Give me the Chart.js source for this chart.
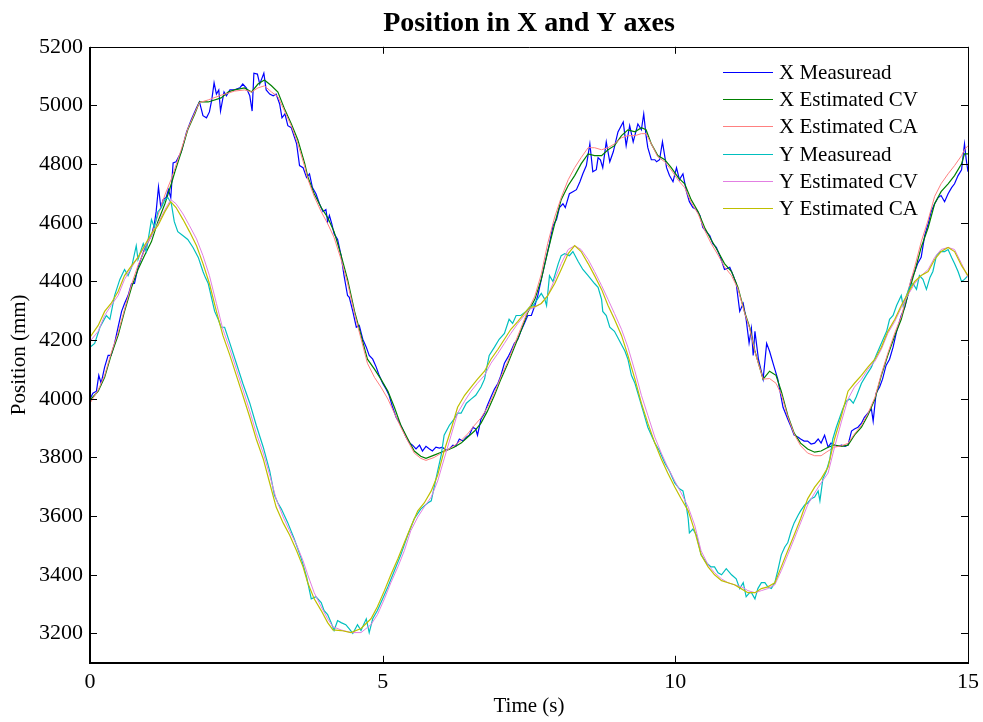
<!DOCTYPE html>
<html>
<head>
<meta charset="utf-8">
<script src="https://cdn.jsdelivr.net/npm/chart.js@4.4.1/dist/chart.umd.min.js"></script>
<style>
html,body{margin:0;padding:0;background:#fff;}
#wrap{width:983px;height:722px;position:relative;}
</style>
</head>
<body>
<div id="wrap"><canvas id="c" width="983" height="722"></canvas></div>
<script>
// ---------- data ----------
const chartTitle = "Position in X and Y axes";
const xAxisTitle = "Time (s)";
const yAxisTitle = "Position (mm)";
const seriesNames = ["X Measuread","X Estimated CV","X Estimated CA","Y Measuread","Y Estimated CV","Y Estimated CA"];
const xTickValues = [0, 5, 10, 15];
const yTickValues = [3200, 3400, 3600, 3800, 4000, 4200, 4400, 4600, 4800, 5000, 5200];

const tXMeas = [0,0.05,0.11,0.15,0.19,0.25,0.31,0.36,0.42,0.48,0.54,0.59,0.65,0.71,0.76,0.82,0.88,0.93,0.99,1.05,1.10,1.13,1.17,1.21,1.25,1.30,1.34,1.38,1.42,1.47,1.56,1.65,1.73,1.82,1.87,1.93,1.99,2.04,2.08,2.12,2.16,2.20,2.23,2.29,2.33,2.39,2.47,2.56,2.61,2.67,2.73,2.77,2.80,2.86,2.90,2.94,2.97,3.01,3.07,3.13,3.18,3.24,3.28,3.33,3.38,3.44,3.53,3.58,3.64,3.70,3.75,3.80,3.86,3.92,3.98,4.03,4.06,4.09,4.13,4.17,4.23,4.29,4.34,4.40,4.43,4.49,4.55,4.60,4.66,4.72,4.77,4.83,4.89,4.94,5.00,5.06,5.11,5.17,5.23,5.29,5.34,5.40,5.46,5.51,5.57,5.63,5.68,5.74,5.80,5.85,5.91,5.97,6.02,6.08,6.14,6.20,6.25,6.31,6.37,6.43,6.48,6.54,6.59,6.62,6.68,6.74,6.79,6.85,6.91,6.97,7.02,7.08,7.14,7.19,7.25,7.31,7.36,7.42,7.48,7.54,7.60,7.65,7.71,7.77,7.85,7.91,7.97,8.02,8.08,8.12,8.19,8.25,8.31,8.37,8.42,8.48,8.54,8.59,8.65,8.68,8.72,8.76,8.82,8.88,8.94,9.02,9.11,9.16,9.22,9.28,9.36,9.42,9.46,9.50,9.53,9.59,9.65,9.68,9.73,9.78,9.85,9.90,9.96,10.02,10.07,10.13,10.19,10.24,10.30,10.36,10.42,10.47,10.53,10.59,10.64,10.70,10.76,10.84,10.93,10.99,11.04,11.10,11.16,11.21,11.26,11.30,11.33,11.36,11.42,11.50,11.56,11.61,11.67,11.75,11.84,11.92,11.98,12.03,12.10,12.14,12.20,12.26,12.32,12.38,12.44,12.49,12.55,12.61,12.66,12.72,12.78,12.84,12.90,12.95,13.01,13.06,13.12,13.18,13.23,13.29,13.35,13.38,13.43,13.49,13.54,13.60,13.66,13.72,13.78,13.86,13.92,13.97,14.03,14.09,14.14,14.20,14.26,14.32,14.37,14.43,14.49,14.54,14.60,14.66,14.72,14.77,14.83,14.89,14.94,14.97,15];
const xMeasured = [3999,4019,4026,4080,4053,4108,4148,4148,4189,4244,4298,4325,4352,4393,4393,4448,4482,4509,4536,4556,4597,4638,4722,4652,4679,4686,4713,4686,4804,4808,4842,4910,4951,4992,5012,4965,4958,4978,5019,5077,5039,5053,4981,5046,5033,5053,5053,5060,5073,5060,5033,4981,5110,5107,5073,5094,5110,5053,5039,5033,5039,5005,4958,4971,4931,4924,4869,4795,4788,4754,4767,4720,4699,4665,4638,4645,4604,4625,4597,4563,4543,4488,4420,4352,4346,4298,4244,4250,4203,4176,4148,4135,4108,4080,4053,4033,4012,3971,3937,3917,3897,3869,3849,3842,3829,3842,3822,3838,3829,3822,3835,3832,3835,3825,3829,3842,3838,3863,3856,3869,3876,3903,3897,3876,3931,3951,3978,4006,4033,4053,4080,4121,4142,4162,4189,4203,4230,4257,4284,4284,4318,4352,4407,4461,4529,4590,4611,4652,4665,4652,4699,4706,4713,4740,4767,4795,4869,4774,4781,4822,4815,4788,4876,4808,4842,4910,4944,4863,4931,4876,4937,4917,4971,4897,4856,4815,4815,4808,4815,4876,4788,4761,4740,4788,4747,4767,4706,4672,4652,4645,4625,4584,4570,4556,4529,4516,4488,4441,4448,4420,4393,4298,4325,4271,4190,4240,4148,4230,4135,4067,4189,4162,4121,4067,3971,3931,3903,3876,3869,3863,3856,3856,3846,3849,3863,3849,3876,3835,3849,3842,3838,3842,3838,3842,3890,3897,3903,3917,3937,3951,3965,3924,4019,4040,4067,4114,4135,4176,4230,4284,4312,4352,4407,4434,4461,4482,4556,4597,4638,4665,4686,4693,4672,4699,4720,4733,4761,4781,4869,4815,4774];

const tXEst = [0,0.14,0.25,0.36,0.48,0.59,0.71,0.82,0.93,1.05,1.16,1.28,1.39,1.45,1.56,1.67,1.79,1.87,2.02,2.24,2.36,2.47,2.64,2.76,2.87,2.98,3.10,3.21,3.33,3.44,3.55,3.67,3.72,3.83,3.95,4.06,4.17,4.29,4.40,4.52,4.63,4.74,4.86,4.97,5.09,5.20,5.31,5.43,5.54,5.65,5.74,5.88,6.00,6.11,6.22,6.34,6.45,6.57,6.68,6.79,6.91,7.02,7.14,7.25,7.36,7.48,7.60,7.71,7.82,7.94,8.05,8.17,8.28,8.39,8.51,8.62,8.74,8.85,8.96,9.08,9.19,9.31,9.42,9.50,9.59,9.70,9.82,9.93,10.05,10.16,10.27,10.39,10.50,10.61,10.73,10.84,10.96,11.07,11.18,11.27,11.36,11.50,11.61,11.72,11.81,11.92,12.03,12.14,12.26,12.38,12.49,12.61,12.72,12.84,12.95,13.06,13.18,13.29,13.41,13.52,13.63,13.75,13.86,13.97,14.09,14.20,14.32,14.43,14.54,14.66,14.77,14.89,14.94,15];
const xEstCV = [3995,4026,4073,4148,4216,4298,4380,4441,4488,4536,4604,4665,4733,4774,4842,4917,4971,5012,5012,5026,5046,5053,5060,5046,5073,5087,5067,5046,4985,4937,4883,4801,4757,4699,4652,4618,4570,4489,4407,4298,4216,4135,4101,4067,4026,3971,3910,3863,3822,3804,3797,3808,3818,3826,3835,3849,3869,3890,3917,3958,4012,4067,4121,4176,4230,4295,4339,4407,4502,4597,4679,4727,4761,4801,4835,4829,4829,4849,4863,4897,4917,4910,4924,4917,4869,4829,4815,4788,4754,4733,4679,4638,4584,4543,4502,4461,4434,4380,4298,4244,4162,4067,4094,4080,4026,3944,3883,3849,3829,3818,3822,3835,3842,3838,3842,3876,3903,3944,3999,4080,4148,4216,4271,4352,4434,4516,4584,4665,4706,4733,4761,4801,4835,4835];
const xEstCA = [3985,4030,4080,4155,4225,4305,4390,4455,4505,4556,4625,4695,4750,4785,4850,4920,4975,5010,5019,5035,5042,5049,5053,5046,5060,5067,5046,5030,4978,4930,4870,4790,4750,4690,4638,4597,4550,4475,4395,4290,4205,4121,4073,4040,3999,3951,3903,3856,3815,3797,3790,3800,3815,3826,3840,3858,3880,3910,3935,3970,4020,4075,4128,4185,4240,4300,4350,4425,4530,4620,4686,4747,4788,4822,4856,4856,4849,4856,4869,4890,4897,4897,4904,4904,4869,4825,4808,4780,4745,4720,4670,4630,4575,4530,4490,4450,4420,4375,4295,4240,4160,4067,4069,4053,4015,3940,3880,3840,3815,3806,3806,3822,3835,3840,3848,3880,3910,3950,4005,4085,4155,4225,4280,4365,4450,4535,4610,4690,4733,4767,4795,4829,4849,4863];

const tYMeas = [0,0.08,0.17,0.28,0.34,0.42,0.51,0.59,0.65,0.71,0.79,0.82,0.91,0.96,1.05,1.10,1.16,1.22,1.28,1.33,1.39,1.44,1.50,1.59,1.67,1.76,1.85,1.93,1.97,2.02,2.13,2.19,2.24,2.30,2.39,2.50,2.61,2.73,2.84,2.96,3.07,3.15,3.21,3.27,3.38,3.49,3.61,3.70,3.75,3.78,3.86,3.95,4.00,4.06,4.12,4.17,4.23,4.29,4.37,4.43,4.49,4.57,4.63,4.72,4.77,4.83,4.91,5.00,5.09,5.20,5.31,5.43,5.54,5.65,5.77,5.83,5.88,5.94,6.00,6.05,6.14,6.22,6.28,6.34,6.43,6.51,6.59,6.68,6.74,6.82,6.91,6.99,7.08,7.16,7.22,7.28,7.36,7.45,7.51,7.57,7.62,7.71,7.77,7.80,7.85,7.91,8.00,8.05,8.11,8.19,8.25,8.34,8.42,8.51,8.62,8.68,8.74,8.76,8.82,8.88,8.96,9.05,9.14,9.19,9.25,9.31,9.39,9.45,9.53,9.65,9.73,9.82,9.90,9.99,10.07,10.13,10.19,10.22,10.24,10.30,10.36,10.44,10.53,10.61,10.67,10.73,10.79,10.87,10.96,11.04,11.10,11.16,11.21,11.27,11.30,11.36,11.41,11.47,11.53,11.58,11.64,11.70,11.75,11.81,11.87,11.92,11.98,12.03,12.10,12.14,12.21,12.26,12.32,12.38,12.44,12.47,12.52,12.58,12.64,12.69,12.75,12.81,12.86,12.92,12.98,13.04,13.09,13.18,13.26,13.35,13.43,13.52,13.61,13.66,13.72,13.78,13.83,13.86,13.89,13.95,14.00,14.06,14.12,14.17,14.23,14.29,14.35,14.40,14.46,14.52,14.60,14.66,14.72,14.77,14.83,14.89,14.94,15];
const yMeasured = [4176,4189,4244,4284,4271,4352,4407,4441,4420,4448,4522,4475,4529,4502,4611,4584,4638,4652,4679,4686,4665,4604,4570,4556,4543,4516,4482,4434,4414,4393,4298,4271,4244,4244,4189,4121,4053,3985,3910,3835,3754,3672,3645,3624,3577,3522,3455,3393,3346,3318,3325,3305,3278,3264,3237,3210,3244,3237,3230,3216,3200,3230,3210,3250,3203,3250,3278,3318,3359,3414,3468,3536,3591,3624,3645,3652,3699,3754,3808,3876,3910,3931,3951,3951,3985,3999,4012,4040,4067,4148,4176,4203,4223,4271,4257,4284,4284,4298,4312,4318,4332,4359,4339,4318,4420,4400,4461,4488,4495,4488,4502,4468,4441,4420,4393,4380,4339,4298,4284,4244,4230,4196,4162,4135,4080,4053,3999,3958,3903,3849,3822,3781,3754,3713,3693,3686,3631,3591,3543,3556,3536,3468,3441,3427,3427,3407,3400,3421,3400,3386,3353,3373,3325,3339,3339,3318,3353,3373,3373,3359,3353,3373,3414,3468,3495,3509,3550,3577,3604,3618,3638,3645,3659,3665,3686,3652,3727,3754,3795,3863,3903,3937,3965,3992,3999,3985,4006,4053,4080,4108,4148,4189,4230,4271,4284,4318,4339,4352,4318,4352,4380,4393,4373,4420,4407,4373,4414,4434,4488,4502,4502,4509,4482,4461,4434,4400,4407,4420];

const tYEst = [0,0.14,0.25,0.36,0.48,0.59,0.71,0.82,0.93,1.05,1.16,1.28,1.38,1.47,1.59,1.70,1.82,1.93,2.04,2.16,2.27,2.39,2.50,2.61,2.73,2.84,2.96,3.07,3.18,3.30,3.41,3.53,3.64,3.72,3.83,3.95,4.06,4.15,4.29,4.46,4.63,4.80,4.91,5.03,5.14,5.26,5.37,5.48,5.60,5.71,5.83,5.94,6.05,6.17,6.28,6.40,6.51,6.62,6.74,6.85,6.97,7.08,7.19,7.31,7.42,7.51,7.60,7.71,7.82,7.94,8.05,8.17,8.28,8.39,8.51,8.62,8.74,8.85,8.96,9.08,9.19,9.31,9.42,9.53,9.65,9.76,9.87,9.99,10.10,10.22,10.33,10.44,10.56,10.67,10.79,10.90,11.01,11.13,11.24,11.36,11.47,11.58,11.70,11.81,11.92,12.03,12.14,12.26,12.38,12.49,12.61,12.72,12.84,12.95,13.06,13.18,13.29,13.41,13.52,13.63,13.75,13.86,13.97,14.09,14.20,14.32,14.43,14.54,14.66,14.77,14.89,15];
const yEstCV = [4196,4230,4284,4318,4352,4407,4448,4482,4516,4556,4597,4645,4679,4665,4630,4590,4545,4488,4420,4325,4237,4169,4101,4033,3958,3883,3815,3740,3659,3597,3550,3502,3448,3400,3339,3291,3250,3223,3212,3203,3203,3230,3264,3318,3373,3427,3482,3550,3597,3631,3665,3720,3795,3876,3951,3992,4026,4053,4080,4121,4155,4189,4223,4257,4284,4305,4312,4325,4352,4407,4461,4509,4522,4509,4475,4434,4386,4339,4291,4237,4176,4094,4012,3944,3869,3815,3767,3720,3679,3631,3570,3482,3434,3407,3386,3373,3366,3359,3346,3339,3346,3353,3366,3414,3468,3522,3577,3638,3679,3713,3747,3835,3924,3999,4040,4067,4101,4128,4169,4223,4264,4311,4352,4393,4420,4441,4482,4509,4516,4509,4461,4414];
const yEstCA = [4210,4250,4298,4325,4366,4420,4454,4482,4522,4563,4590,4638,4672,4652,4611,4570,4522,4461,4393,4298,4216,4148,4080,4012,3937,3863,3795,3713,3631,3577,3536,3482,3427,3373,3318,3278,3237,3212,3210,3203,3217,3250,3291,3346,3400,3455,3509,3563,3618,3645,3686,3740,3822,3897,3971,4012,4040,4067,4094,4135,4169,4203,4237,4264,4291,4312,4314,4325,4352,4393,4441,4495,4522,4502,4461,4420,4373,4318,4271,4216,4148,4067,3985,3917,3849,3795,3747,3699,3659,3618,3550,3468,3427,3400,3380,3373,3366,3352,3339,3339,3353,3359,3373,3427,3482,3536,3591,3659,3699,3727,3767,3863,3944,4026,4053,4080,4108,4135,4176,4230,4271,4318,4359,4400,4420,4434,4475,4502,4516,4502,4454,4420];

const seriesColors = ["#0000ff", "#008000", "#ff8080", "#00bfbf", "#e27fe2", "#bfbf00"];
const seriesWidths = [1.2, 1.2, 1, 1.2, 1, 1.2];

// ---------- build datasets ----------
function pts(ts, vs){ return ts.map((t,i)=>({x:t, y:vs[i]})); }
const seriesData = [
  pts(tXMeas, xMeasured), pts(tXEst, xEstCV), pts(tXEst, xEstCA),
  pts(tYMeas, yMeasured), pts(tYEst, yEstCV), pts(tYEst, yEstCA)
];
const datasets = seriesData.map((d,i)=>({
  label: seriesNames[i],
  data: d,
  borderColor: seriesColors[i],
  backgroundColor: seriesColors[i],
  borderWidth: seriesWidths[i],
  pointRadius: 0,
  tension: 0,
  fill: false,
  order: seriesNames.length - i   // later series drawn on top, like the original
}));

const FONT = "'Liberation Serif','Times New Roman',serif";

const framePlugin = {
  id: 'matlabFrame',
  afterDatasetsDraw(chart){
    const {ctx, chartArea:a, scales:{x, y}} = chart;
    ctx.save();
    ctx.strokeStyle = '#000';
    ctx.lineWidth = 1;
    const L = 7;
    y.ticks.forEach(t=>{
      const py = Math.round(y.getPixelForValue(t.value)) + 0.5;
      ctx.beginPath();
      ctx.moveTo(a.left, py); ctx.lineTo(a.left + L, py);
      ctx.moveTo(a.right, py); ctx.lineTo(a.right - L, py);
      ctx.stroke();
    });
    x.ticks.forEach(t=>{
      const px = Math.round(x.getPixelForValue(t.value)) + 0.5;
      ctx.beginPath();
      ctx.moveTo(px, a.bottom); ctx.lineTo(px, a.bottom - L);
      ctx.moveTo(px, a.top); ctx.lineTo(px, a.top + L);
      ctx.stroke();
    });
    // box
    ctx.lineWidth = 1;
    ctx.beginPath();
    ctx.moveTo(Math.round(a.left), Math.round(a.top)+0.5);
    ctx.lineTo(Math.round(a.right)+0.5, Math.round(a.top)+0.5);
    ctx.lineTo(Math.round(a.right)+0.5, Math.round(a.bottom));
    ctx.stroke();
    ctx.lineWidth = 2;
    ctx.beginPath();
    ctx.moveTo(Math.round(a.left), Math.round(a.top));
    ctx.lineTo(Math.round(a.left), Math.round(a.bottom));
    ctx.lineTo(Math.round(a.right)+1, Math.round(a.bottom));
    ctx.stroke();

    // legend inside the axes (no box)
    const x0 = a.right - 245, y0 = a.top + 25, dy = 27.3;
    ctx.font = "21px " + FONT;
    ctx.textBaseline = 'middle';
    ctx.textAlign = 'left';
    chart.data.datasets.forEach((ds, i)=>{
      const yy = Math.round(y0 + i*dy) + 0.5;
      ctx.strokeStyle = ds.borderColor;
      ctx.lineWidth = 1;
      ctx.beginPath();
      ctx.moveTo(x0, yy); ctx.lineTo(x0 + 50, yy);
      ctx.stroke();
      ctx.fillStyle = '#000';
      ctx.fillText(ds.label, x0 + 56, yy + 1);
    });
    ctx.restore();
  }
};

new Chart(document.getElementById('c'), {
  type: 'line',
  data: { datasets },
  plugins: [framePlugin],
  options: {
    responsive: false,
    animation: false,
    devicePixelRatio: 1,
    layout: { padding: { left: 0, right: 15, top: 0, bottom: 0 } },
    plugins: {
      legend: { display: false },
      tooltip: { enabled: false },
      title: {
        display: true,
        fullSize: false,
        text: chartTitle,
        color: '#000',
        font: { family: FONT, size: 28, weight: 'bold', lineHeight: 1.2 },
        padding: { top: 7, bottom: 6.2 }
      }
    },
    scales: {
      x: {
        type: 'linear',
        min: 0, max: 15,
        afterBuildTicks: s => { s.ticks = xTickValues.map(v=>({value:v})); },
        afterFit: s => { s.height = 59.2; s.paddingLeft = 0; s.paddingRight = 0; },
        grid: { display: false, drawTicks: false },
        border: { display: false },
        ticks: { color: '#000', font: { family: FONT, size: 22 }, padding: 6, maxRotation: 0 },
        title: { display: true, text: xAxisTitle, color: '#000', font: { family: FONT, size: 21, lineHeight: 1.2 }, padding: { top: 0, bottom: 3 } }
      },
      y: {
        type: 'linear',
        min: 3100, max: 5200,
        afterBuildTicks: s => { s.ticks = yTickValues.map(v=>({value:v})); },
        afterFit: s => { s.width = 90; s.paddingTop = 0; s.paddingBottom = 0; },
        grid: { display: false, drawTicks: false },
        border: { display: false },
        ticks: { color: '#000', font: { family: FONT, size: 22 }, padding: 7, callback: v => String(v) },
        title: { display: true, text: yAxisTitle, color: '#000', font: { family: FONT, size: 21, lineHeight: 1.2 }, padding: { top: 7, bottom: 0 } }
      }
    }
  }
});
</script>
</body>
</html>
